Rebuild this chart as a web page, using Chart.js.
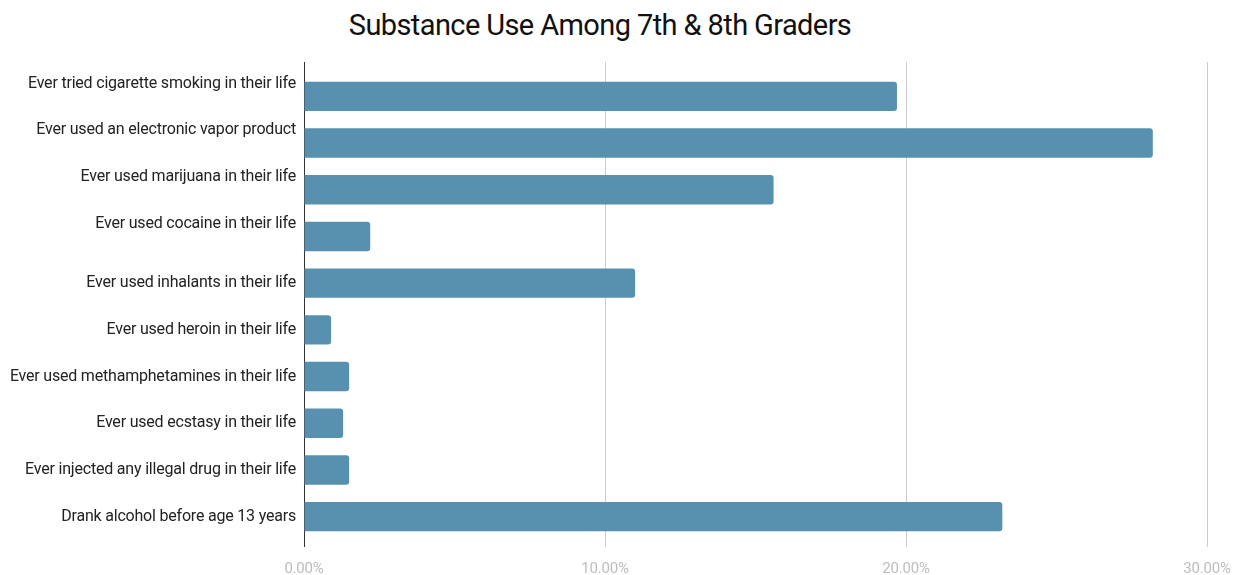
<!DOCTYPE html>
<html>
<head>
<meta charset="utf-8">
<title>Substance Use Among 7th &amp; 8th Graders</title>
<script src="https://cdn.jsdelivr.net/npm/chart.js@4.4.1/dist/chart.umd.min.js"></script>
<style>
  html, body { margin: 0; padding: 0; background: #fff; }
  #wrap { position: relative; width: 1238px; height: 575px; }
  #title {
    position: absolute; left: 0; top: 8px; width: 1200px;
    text-align: center; font-family: Roboto, sans-serif; font-size: 29px;
    letter-spacing: -0.6px; line-height: 34px; color: #111;
  }
  canvas { position: absolute; left: 0; top: 0; }
</style>
</head>
<body>
<div id="wrap">
  <div id="title">Substance Use Among 7th &amp; 8th Graders</div>
  <canvas id="chart" width="1238" height="575"></canvas>
</div>
<script>
// Survey items (some wrap onto a second line)
const categories = [
  ["Ever tried cigarette smoking in their life", ""],
  ["Ever used an electronic vapor product", ""],
  ["Ever used marijuana in their life", ""],
  ["Ever used cocaine in their life", ""],
  "Ever used inhalants in their life",
  "Ever used heroin in their life",
  "Ever used methamphetamines in their life",
  "Ever used ecstasy in their life",
  "Ever injected any illegal drug in their life",
  "Drank alcohol before age 13 years"
];

// Share of students, in percent
const percentages = [19.7, 28.2, 15.6, 2.2, 11.0, 0.9, 1.5, 1.3, 1.5, 23.2];

// Value axis ticks
const axisTicks = [0, 10, 20, 30];

const BAR_COLOR = "#5891af";
const GRID_COLOR = "#cccccc";
const AXIS_COLOR = "#333333";

const gridColor = (ctx) => (ctx.tick && ctx.tick.value === 0 ? AXIS_COLOR : GRID_COLOR);

// Slightly tighter letter spacing for canvas text
const tightText = {
  id: "tightText",
  beforeDraw(chart) {
    if ("letterSpacing" in chart.ctx) chart.ctx.letterSpacing = "-0.2px";
  }
};

// Let the layout padding alone decide the plot edges
const noLabelOverflow = (scale) => {
  scale.paddingLeft = 0;
  scale.paddingRight = 0;
};

new Chart(document.getElementById("chart"), {
  type: "bar",
  data: {
    labels: categories,
    datasets: [{
      data: percentages,
      backgroundColor: BAR_COLOR,
      borderRadius: 3,
      borderSkipped: "start",
      categoryPercentage: 1.0,
      barPercentage: 0.63
    }]
  },
  plugins: [tightText],
  options: {
    indexAxis: "y",
    responsive: false,
    animation: false,
    layout: { padding: { top: 62, right: 31, bottom: 0, left: 0 } },
    plugins: {
      legend: { display: false },
      tooltip: { enabled: false },
      title: { display: false }
    },
    scales: {
      x: {
        type: "linear",
        position: "bottom",
        min: axisTicks[0],
        max: axisTicks[axisTicks.length - 1],
        afterBuildTicks: (scale) => { scale.ticks = axisTicks.map(v => ({ value: v })); },
        afterFit: (scale) => { scale.height = 35; noLabelOverflow(scale); },
        border: { display: false },
        grid: { color: gridColor, lineWidth: 1, tickLength: 7, drawTicks: true },
        ticks: {
          padding: 13,
          color: "#bdbdbd",
          font: { family: "Roboto", size: 15 },
          callback: (v) => Number(v).toFixed(2) + "%"
        }
      },
      xTop: {
        type: "linear",
        position: "top",
        min: axisTicks[0],
        max: axisTicks[axisTicks.length - 1],
        afterBuildTicks: (scale) => { scale.ticks = axisTicks.map(v => ({ value: v })); },
        afterFit: noLabelOverflow,
        border: { display: false },
        grid: { color: gridColor, lineWidth: 1, tickLength: 11, drawOnChartArea: false, drawTicks: true },
        ticks: { display: false }
      },
      y: {
        afterFit: (scale) => { scale.width = 304; },
        border: { display: true, color: AXIS_COLOR, width: 1 },
        grid: { display: false, drawTicks: false },
        ticks: {
          padding: 8,
          color: "#222222",
          autoSkip: false,
          font: { family: "Roboto", size: 16, lineHeight: 1.6 }
        }
      }
    }
  }
});
</script>
</body>
</html>
